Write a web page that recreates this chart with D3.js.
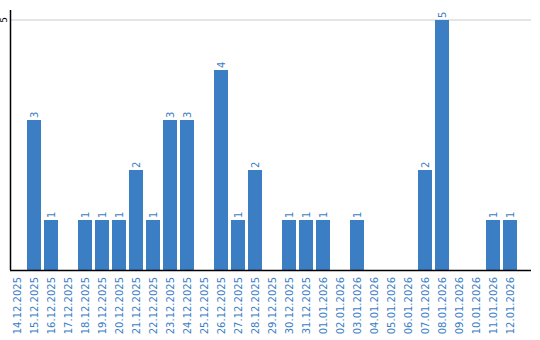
<!DOCTYPE html>
<html>
<head>
<meta charset="utf-8">
<script src="https://cdn.jsdelivr.net/npm/d3@7"></script>
<style>
  body { margin: 0; background: #fff; }
  text { font-family: "DejaVu Sans", Verdana, sans-serif; }
</style>
</head>
<body>
<div id="chart"></div>
<script>
const dates = ["14.12.2025","15.12.2025","16.12.2025","17.12.2025","18.12.2025","19.12.2025",
  "20.12.2025","21.12.2025","22.12.2025","23.12.2025","24.12.2025","25.12.2025","26.12.2025",
  "27.12.2025","28.12.2025","29.12.2025","30.12.2025","31.12.2025","01.01.2026","02.01.2026",
  "03.01.2026","04.01.2026","05.01.2026","06.01.2026","07.01.2026","08.01.2026","09.01.2026",
  "10.01.2026","11.01.2026","12.01.2026"];
const counts = [0,3,1,0,1,1,1,2,1,3,3,0,4,1,2,0,1,1,1,0,1,0,0,0,2,5,0,0,1,1];
const yTicks = [5];

let width = 540;
let height = 340;
const blue = "#3b7ec4";

const svg = d3.select("#chart")
  .append("svg")
  .attr("width", width)
  .attr("height", height);

const x = d3.scaleBand()
  .domain(dates)
  .range([8.5, 518.5])
  .paddingInner(0.176)
  .paddingOuter(0.088);

const y = d3.scaleLinear()
  .domain([0, 5])
  .range([270, 20]);

// gridline
svg.selectAll(".grid")
  .data(yTicks)
  .enter().append("line")
  .attr("x1", 10).attr("x2", 531)
  .attr("y1", d => y(d)).attr("y2", d => y(d))
  .attr("stroke", "#cccccc")
  .attr("stroke-width", 1);

// bars
const data = dates.map((d, i) => ({ date: d, value: counts[i] }));

svg.selectAll(".bar")
  .data(data.filter(d => d.value > 0))
  .enter().append("rect")
  .attr("x", d => x(d.date))
  .attr("y", d => y(d.value))
  .attr("width", x.bandwidth())
  .attr("height", d => y(0) - y(d.value))
  .attr("fill", blue);

// value labels
svg.selectAll(".val")
  .data(data.filter(d => d.value > 0))
  .enter().append("text")
  .attr("transform", d => `translate(${x(d.date) + x.bandwidth() / 2 + 3.5},${y(d.value) - 2}) rotate(-90)`)
  .attr("fill", blue)
  .attr("font-size", 10)
  .text(d => d.value);

// axes lines
svg.append("line")
  .attr("x1", 10.5).attr("x2", 10.5)
  .attr("y1", 10).attr("y2", 270)
  .attr("stroke", "#000").attr("stroke-width", 1.5);

svg.append("line")
  .attr("x1", 10).attr("x2", 531)
  .attr("y1", 270.5).attr("y2", 270.5)
  .attr("stroke", "#000").attr("stroke-width", 1.5);

// y tick labels
svg.selectAll(".ytick")
  .data(yTicks)
  .enter().append("text")
  .attr("transform", d => `translate(7,${y(d)}) rotate(-90)`)
  .attr("text-anchor", "middle")
  .attr("font-size", 9)
  .attr("fill", "#000")
  .text(d => d);

// x labels
svg.selectAll(".xlab")
  .data(dates)
  .enter().append("text")
  .attr("transform", d => `translate(${x(d) + x.bandwidth() / 2 + 3.5},277) rotate(-90)`)
  .attr("text-anchor", "end")
  .attr("font-size", 10)
  .attr("fill", blue)
  .text(d => d);
</script>
</body>
</html>
